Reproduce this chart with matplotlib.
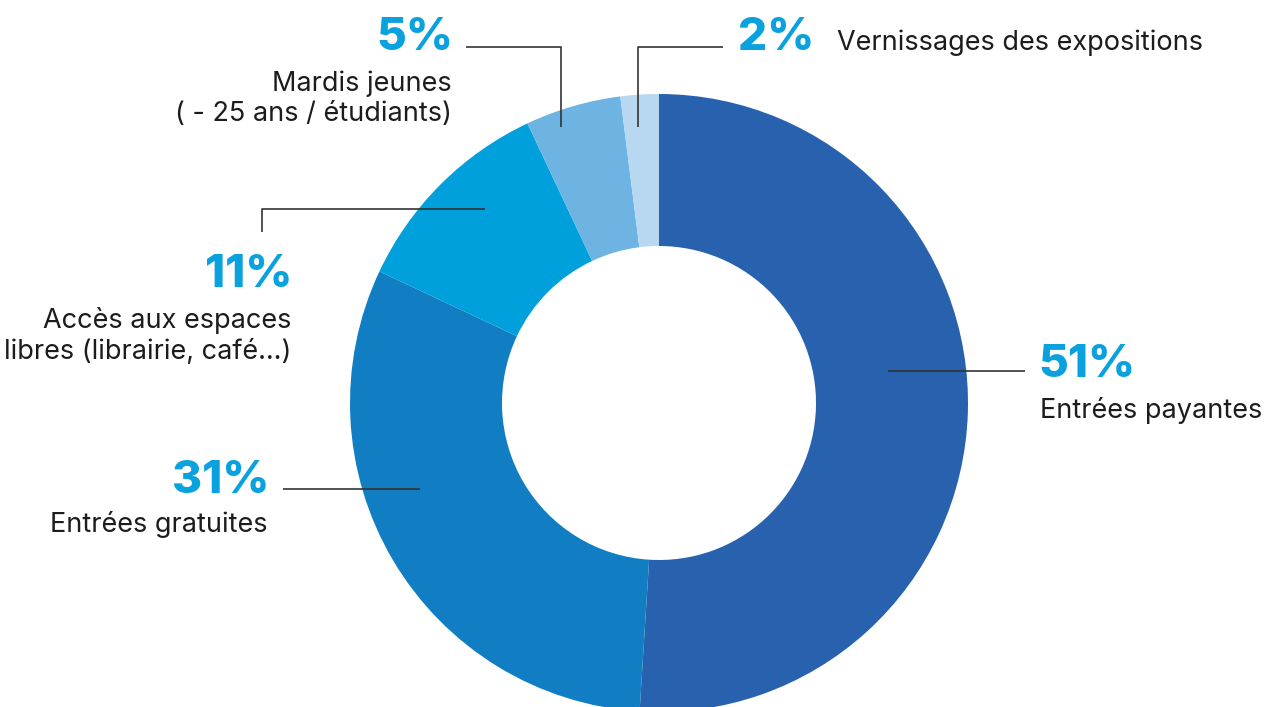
import matplotlib.pyplot as plt

plt.rcParams['font.family'] = ['Inter', 'DejaVu Sans']

# Répartition des entrées
labels = ['Entrées payantes', 'Entrées gratuites',
          'Accès aux espaces\nlibres (librairie, café…)',
          'Mardis jeunes\n( - 25 ans / étudiants)',
          'Vernissages des expositions']
values = [51, 31, 11, 5, 2]
colors = ['#2862ae', '#117ec3', '#00a0dd', '#6eb4e3', '#b8d8f1']

pct_color = '#0aa2de'
txt_color = '#1c1c1c'
line_color = '#333333'

fig = plt.figure(figsize=(12.65, 7.07), dpi=100)
ax = fig.add_axes([0, 0, 1, 1])

cx, cy, R = 659, 403, 309
ax.pie(values, colors=colors, startangle=-90, counterclock=True,
       center=(cx, cy), radius=R,
       wedgeprops=dict(width=152, linewidth=0))
# y axis runs downward, so pixel-style coordinates can be used
ax.set_xlim(0, 1265)
ax.set_ylim(707, 0)
ax.set_aspect('equal')
ax.axis('off')

# leader lines
leaders = [
    [(888, 371), (1025, 371)],
    [(420, 489), (283, 489)],
    [(485, 209), (262, 209), (262, 232)],
    [(561, 127), (561, 47), (466, 47)],
    [(638, 127), (638, 47), (723, 47)],
]
for pts in leaders:
    xs, ys = zip(*pts)
    ax.plot(xs, ys, color=line_color, lw=1.2, solid_capstyle='butt')

pct_kw = dict(color=pct_color, fontsize=33, fontweight='heavy', va='center')
lab_kw = dict(color=txt_color, fontsize=19.5, fontweight='normal', va='center',
              linespacing=1.2)

# 51%
ax.text(1038, 365, f'{values[0]}%', ha='left', **pct_kw)
ax.text(1040, 410, labels[0], ha='left', **lab_kw)
# 31%
ax.text(269, 481, f'{values[1]}%', ha='right', **pct_kw)
ax.text(268, 525, labels[1], ha='right', **lab_kw)
# 11%
ax.text(292, 275, f'{values[2]}%', ha='right', **pct_kw)
ax.text(291, 336, labels[2], ha='right', multialignment='right', **lab_kw)
# 5%
ax.text(453, 38, f'{values[3]}%', ha='right', **pct_kw)
ax.text(452, 99, labels[3], ha='right', multialignment='right', **lab_kw)
# 2%
ax.text(738, 38, f'{values[4]}%', ha='left', **pct_kw)
ax.text(837, 43, labels[4], ha='left', **lab_kw)

fig.savefig('out.png', dpi=100, facecolor='white')
